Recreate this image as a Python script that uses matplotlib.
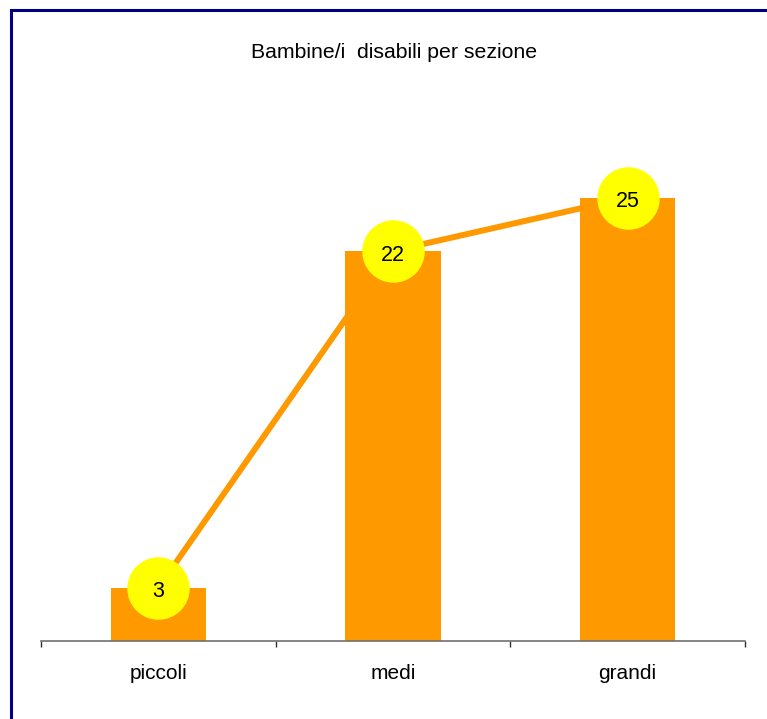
import matplotlib
matplotlib.use("Agg")
import matplotlib.pyplot as plt
from matplotlib.patches import Rectangle

categories = ["piccoli", "medi", "grandi"]
values = [3, 22, 25]
title = "Bambine/i  disabili per sezione"

plt.rcParams['font.family'] = ['Liberation Sans', 'DejaVu Sans']

fig = plt.figure(figsize=(7.67, 7.19), dpi=100)
fig.patch.set_facecolor("white")

# outer frame (extends beyond right/bottom edges)
fig.patches.append(Rectangle((10.5/767, -0.05), 1.2, 1 - 9.5/719 + 0.05,
                             transform=fig.transFigure, fill=False,
                             edgecolor="#000080", linewidth=2.2, zorder=0))

ax = fig.add_axes([41/767, 1 - 641/719, (745 - 41)/767, (641 - 109)/719])
x = list(range(len(categories)))
ax.bar(x, values, width=0.405, color="#FF9900", zorder=2)
ax.plot(x, values, color="#FF9900", linewidth=4.3, zorder=3,
        marker="o", markersize=44, markerfacecolor="#FFFF00",
        markeredgecolor="#FFFF00")
for xi, v in zip(x, values):
    ax.annotate(str(v), (xi, v), xytext=(0, -3), textcoords="offset points",
                ha="center", va="center", fontsize=15.5, color="black",
                zorder=5, annotation_clip=False)

ax.set_xlim(-0.5, 2.5)
ax.set_ylim(0, 30)
ax.set_yticks([])
for s in ["top", "right", "left"]:
    ax.spines[s].set_visible(False)
ax.spines["bottom"].set_color("#707070")
ax.spines["bottom"].set_linewidth(1.2)
ax.spines["bottom"].set_zorder(4)
ax.set_xticks(x)
ax.set_xticklabels(categories, fontsize=15)
ax.set_xticks([-0.5, 0.5, 1.5, 2.5], minor=True)
ax.tick_params(axis="x", which="major", length=0, pad=16.5)
ax.tick_params(axis="x", which="minor", length=4, width=1, color="#303030",
               direction="out")
for artist in ax.get_children():
    try:
        artist.set_clip_on(False)
    except Exception:
        pass

fig.text(394/767, 1 - 52/719, title, ha="center", va="center", fontsize=15.3)

fig.savefig("out.png", dpi=100)
